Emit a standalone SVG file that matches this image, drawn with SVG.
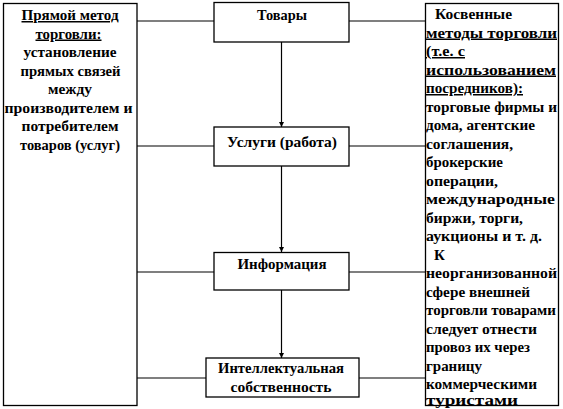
<svg xmlns="http://www.w3.org/2000/svg" width="563" height="409" viewBox="0 0 563 409">
<style>
rect{fill:#fff;stroke:#000;stroke-width:1.3}
.c line{stroke:#000;stroke-width:1.2}
text{font-family:"Liberation Serif","Times New Roman",serif;font-weight:bold;font-size:15px;fill:#000}
.m{text-anchor:middle}
.u{text-decoration:underline}
</style>
<defs>
<marker id="a" markerWidth="6" markerHeight="6" refX="5" refY="3" orient="auto" markerUnits="userSpaceOnUse">
<path d="M0,0.5 L5,3 L0,5.5 Z" fill="#000"/>
</marker>
</defs>
<g class="c" id="connectors">
<line x1="137" y1="21" x2="214" y2="21"/>
<line x1="349" y1="21" x2="425" y2="21"/>
<line x1="137" y1="146" x2="214" y2="146"/>
<line x1="349" y1="146" x2="425" y2="146"/>
<line x1="137" y1="272" x2="214" y2="272"/>
<line x1="349" y1="272" x2="425" y2="272"/>
<line x1="137" y1="378" x2="206" y2="378"/>
<line x1="359" y1="378" x2="425" y2="378"/>
<line x1="281.5" y1="42" x2="281.5" y2="127" marker-end="url(#a)"/>
<line x1="281.5" y1="166" x2="281.5" y2="252" marker-end="url(#a)"/>
<line x1="281.5" y1="290" x2="281.5" y2="358" marker-end="url(#a)"/>
</g>
<g id="left">
<rect x="3.5" y="3.5" width="133.5" height="402"/>
<text class="m u" x="70" y="20" textLength="97" lengthAdjust="spacingAndGlyphs">Прямой метод</text>
<text class="m u" x="68.5" y="38.5" textLength="66" lengthAdjust="spacingAndGlyphs">торговли:</text>
<text class="m" x="70" y="57" textLength="93" lengthAdjust="spacingAndGlyphs">установление</text>
<text class="m" x="70.5" y="75.5" textLength="100" lengthAdjust="spacingAndGlyphs">прямых связей</text>
<text class="m" x="70" y="94" textLength="44" lengthAdjust="spacingAndGlyphs">между</text>
<text class="m" x="68.5" y="112.5" textLength="128" lengthAdjust="spacingAndGlyphs">производителем и</text>
<text class="m" x="70" y="131" textLength="97" lengthAdjust="spacingAndGlyphs">потребителем</text>
<text class="m" x="70" y="149.5" textLength="100" lengthAdjust="spacingAndGlyphs">товаров (услуг)</text>
</g>
<g id="tovary">
<rect x="214" y="2.5" width="135" height="39.5"/>
<text class="m" x="282" y="20" textLength="50" lengthAdjust="spacingAndGlyphs">Товары</text>
</g>
<g id="uslugi">
<rect x="214" y="127" width="135" height="39"/>
<text class="m" x="282" y="147" textLength="110" lengthAdjust="spacingAndGlyphs">Услуги (работа)</text>
</g>
<g id="info">
<rect x="214" y="252.5" width="135" height="37.5"/>
<text class="m" x="282" y="268.5" textLength="89" lengthAdjust="spacingAndGlyphs">Информация</text>
</g>
<g id="intel">
<rect x="206" y="358" width="153" height="39"/>
<text class="m" x="281" y="373" textLength="126" lengthAdjust="spacingAndGlyphs">Интеллектуальная</text>
<text class="m" x="281" y="392" textLength="101" lengthAdjust="spacingAndGlyphs">собственность</text>
</g>
<g id="right">
<rect x="425.5" y="3.5" width="133" height="402"/>
<text x="435" y="19" textLength="77" lengthAdjust="spacingAndGlyphs">Косвенные</text>
<text class="u" x="426" y="37.5" textLength="131" lengthAdjust="spacingAndGlyphs">методы торговли</text>
<text class="u" x="426" y="56" textLength="39" lengthAdjust="spacingAndGlyphs">(т.е. с</text>
<text class="u" x="426" y="74.5" textLength="130" lengthAdjust="spacingAndGlyphs">использованием</text>
<text class="u" x="426" y="93" textLength="97" lengthAdjust="spacingAndGlyphs">посредников):</text>
<text x="426" y="111.5" textLength="131" lengthAdjust="spacingAndGlyphs">торговые фирмы и</text>
<text x="426" y="130" textLength="109" lengthAdjust="spacingAndGlyphs">дома, агентские</text>
<text x="426" y="148.5" textLength="87" lengthAdjust="spacingAndGlyphs">соглашения,</text>
<text x="426" y="167" textLength="77" lengthAdjust="spacingAndGlyphs">брокерские</text>
<text x="426" y="185.5" textLength="72" lengthAdjust="spacingAndGlyphs">операции,</text>
<text x="426" y="204" textLength="129" lengthAdjust="spacingAndGlyphs">международные</text>
<text x="426" y="222.5" textLength="97" lengthAdjust="spacingAndGlyphs">биржи, торги,</text>
<text x="426" y="241" textLength="116" lengthAdjust="spacingAndGlyphs">аукционы и т. д.</text>
<text x="434" y="259.5">К</text>
<text x="426" y="278" textLength="131" lengthAdjust="spacingAndGlyphs">неорганизованной</text>
<text x="426" y="296.5" textLength="104" lengthAdjust="spacingAndGlyphs">сфере внешней</text>
<text x="426" y="315" textLength="130" lengthAdjust="spacingAndGlyphs">торговли товарами</text>
<text x="426" y="333.5" textLength="111" lengthAdjust="spacingAndGlyphs">следует отнести</text>
<text x="426" y="352" textLength="104" lengthAdjust="spacingAndGlyphs">провоз их через</text>
<text x="426" y="370.5" textLength="56" lengthAdjust="spacingAndGlyphs">границу</text>
<text x="426" y="389" textLength="111" lengthAdjust="spacingAndGlyphs">коммерческими</text>
<text x="426" y="404.5" textLength="92" lengthAdjust="spacingAndGlyphs">туристами</text>
</g>
</svg>
